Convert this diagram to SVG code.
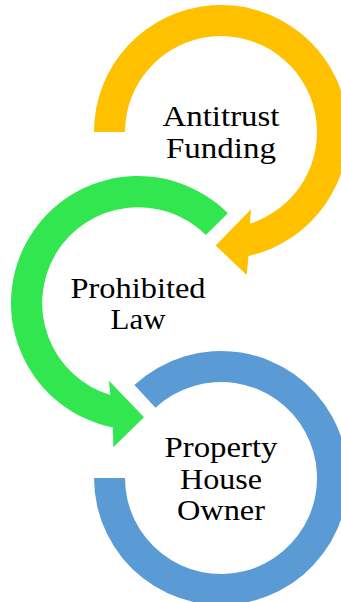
<svg xmlns="http://www.w3.org/2000/svg" width="341" height="602" viewBox="0 0 341 602">
  <style>
    .label { font-family: "Liberation Serif", "Times New Roman", serif; font-size: 29px; fill: #000; text-anchor: middle; }
    .gold { fill: #FFC000; }
    .green { fill: #32E650; }
    .blue { fill: #5B9BD5; }
  </style>
  <rect width="341" height="602" fill="#fff"/>

  <!-- Circular block arrow around (221,132) -->
  <g id="antitrust-funding">
    <path class="gold" d="M94,132 A127,127 0 1 1 248.5,256 L246.7,275 L215.7,245.5 L251,209.3 L249.9,223.6 A96,96 0 1 0 125,132 Z"/>
    <text class="label" x="221" y="126" textLength="117" lengthAdjust="spacingAndGlyphs">Antitrust</text>
    <text class="label" x="221" y="157.5" textLength="110" lengthAdjust="spacingAndGlyphs">Funding</text>
  </g>

  <!-- Circular block arrow around (138,303) -->
  <g id="prohibited-law">
    <path class="green" d="M227.8,213.2 A127,127 0 1 0 112.9,427.5 L113.3,447.3 L144,417.3 L109,380.7 L110.3,395 A96,96 0 1 1 205.9,235.1 Z"/>
    <text class="label" x="138" y="297.5" textLength="135" lengthAdjust="spacingAndGlyphs">Prohibited</text>
    <text class="label" x="138" y="329" textLength="55" lengthAdjust="spacingAndGlyphs">Law</text>
  </g>

  <!-- Open ring around (221,478) -->
  <g id="property-house-owner">
    <path class="blue" d="M134.4,385.1 A127,127 0 1 1 94,478 L125,478 A96,96 0 1 0 155.5,407.8 Z"/>
    <text class="label" x="221" y="457" textLength="113" lengthAdjust="spacingAndGlyphs">Property</text>
    <text class="label" x="221" y="488.5" textLength="82" lengthAdjust="spacingAndGlyphs">House</text>
    <text class="label" x="221" y="520" textLength="88" lengthAdjust="spacingAndGlyphs">Owner</text>
  </g>
</svg>
